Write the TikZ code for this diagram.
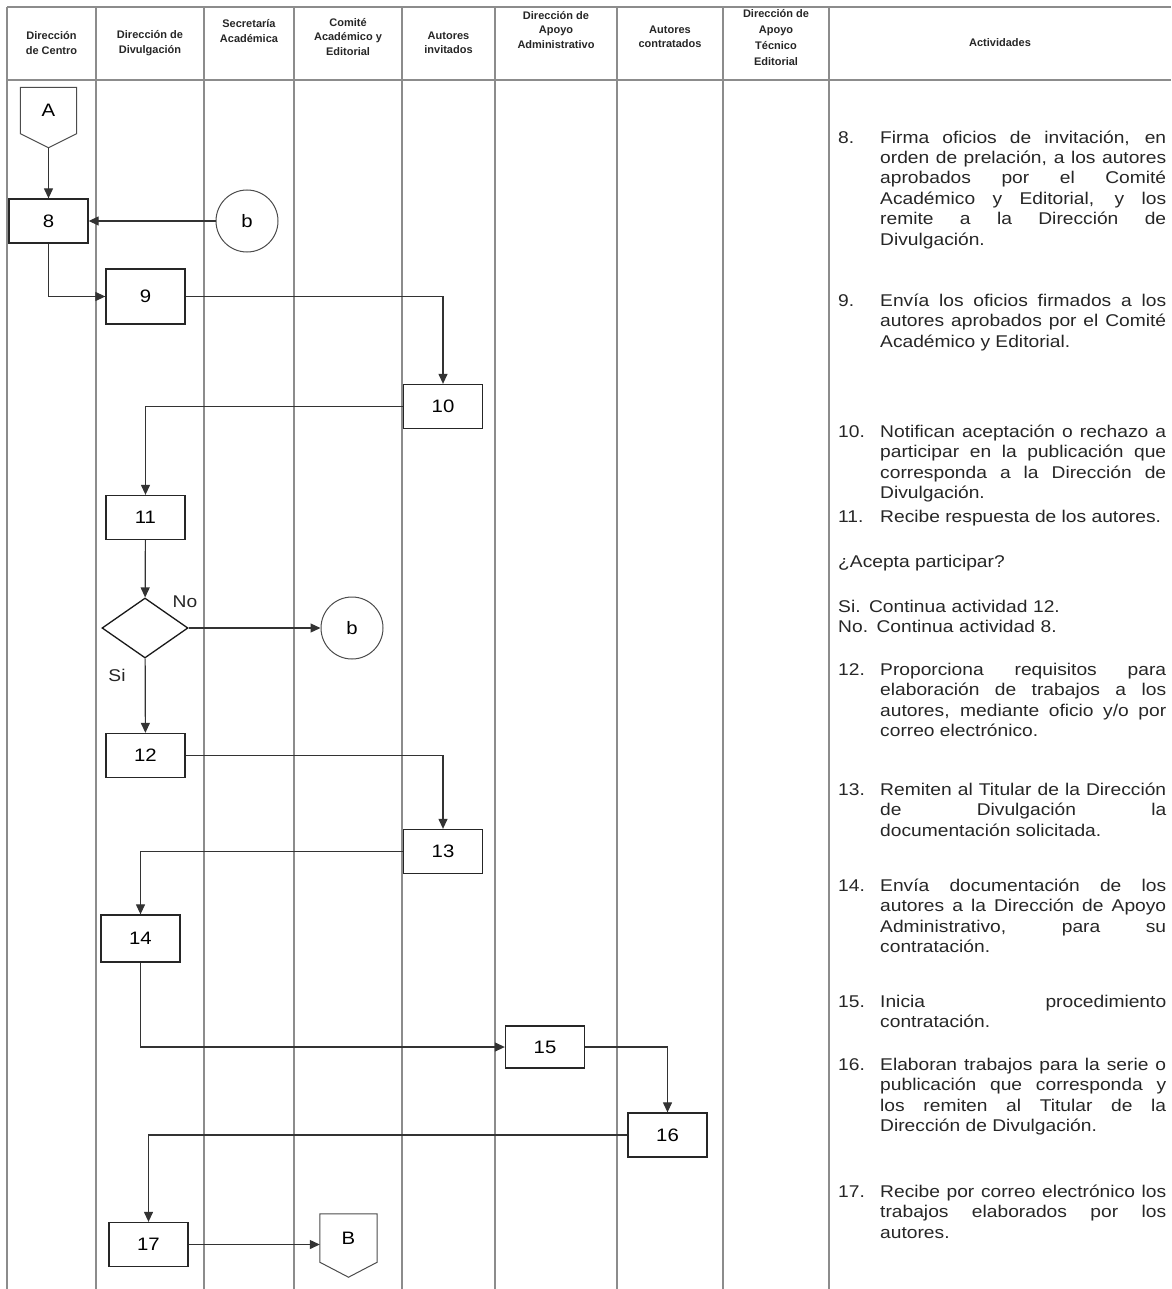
\documentclass[tikz,border=0pt]{standalone}
\usepackage{fontspec}
\setmainfont{Liberation Sans}
\newfontfamily\actfamily[FakeStretch=1.13]{Liberation Sans}
\usetikzlibrary{shapes.geometric,arrows.meta,positioning}
\newcommand{\actfont}{\actfamily\fontsize{17}{20.4}\selectfont}
\newcommand{\headfont}{\bfseries\fontsize{11}{14.5}\selectfont}
\newcommand{\boxfont}{\actfamily\fontsize{18}{20}\selectfont}
\newcommand{\actstrut}{\rule{0pt}{16pt}}
\tikzstyle{lane} = [draw=black!45, line width=1.6pt]
\tikzstyle{headtext} = [align=center, font=\headfont, inner sep=0pt, text=black!85]
\tikzstyle{procbox} = [draw=black!85, line width=1.3pt, rectangle,
    minimum width=79pt, minimum height=44pt, inner sep=0pt, font=\boxfont]
\tikzstyle{offpage} = [rectangle, minimum width=56pt, minimum height=46pt,
    inner sep=0pt, font=\boxfont]
\tikzstyle{offline} = [draw=black!70, line width=1pt]
\tikzstyle{connector} = [draw=black!70, line width=1pt, circle,
    minimum size=62pt, inner sep=0pt, font=\boxfont]
\tikzstyle{decision} = [draw=black!90, line width=1.3pt, diamond,
    minimum width=86pt, minimum height=60pt, inner sep=0pt]
\tikzstyle{flow} = [draw=black!80, line width=1.2pt, -{Triangle[length=10pt,width=9pt]}]
\tikzstyle{actividad} = [anchor=north west, inner sep=0pt, text width=286pt,
    align=justify, font=\actfont, text=black!85]
\tikzstyle{actnumber} = [anchor=north west, inner sep=0pt, font=\actfont, text=black!85]
\tikzstyle{answer} = [inner sep=0pt, font=\actfont, text=black!85]

\begin{document}
\begin{tikzpicture}[x=1pt, y=-1pt]
\useasboundingbox (0,0) rectangle (1171,1289);
\tolerance=10000 \hbadness=10000

% lanes
\foreach \x in {7,96,204,294,402,495,617,723,829}
  \draw[lane] (\x,7) -- (\x,1289);
\draw[lane] (7,7) -- (1171,7);
\draw[lane] (7,80) -- (1171,80);

% header
\node[headtext] (hcentro) at (51.5,43) {Dirección\\de Centro};
\node[headtext] (hdivul) at (150,43) {Dirección de\\Divulgación};
\node[headtext] (hsecre) at (249,31) {Secretaría\\Académica};
\node[headtext] (hcomite) at (348,37) {Comité\\Académico y\\Editorial};
\node[headtext] (hinvit) at (448.5,43) {Autores\\invitados};
\node[headtext] (hadmin) at (556,30) {Dirección de\\Apoyo\\Administrativo};
\node[headtext] (hcontr) at (670,37) {Autores\\contratados};
\node[headtext, font=\bfseries\fontsize{11}{16}\selectfont] (htecn) at (776,38)
    {Dirección de\\Apoyo\\Técnico\\Editorial};
\node[headtext] (hactiv) at (1000,43) {Actividades};

% flow
\node[offpage] (A) at (48.5,110.5) {A};
\draw[offline] (A.south west) -- (A.north west) -- (A.north east) -- (A.south east)
    -- ([yshift=-14pt]A.south) -- cycle;
\coordinate (Atip) at ([yshift=-14pt]A.south);

\node[procbox] (b8) at (48.5,221) {8};
\node[connector] (cb1) at (247,221) {b};
\node[procbox, minimum height=55pt] (b9) at (145.5,296.5) {9};
\node[procbox] (b10) at (443,406.5) {10};
\node[procbox] (b11) at (145.5,517.5) {11};
\node[decision] (dec) at (145,628) {};
\node[answer] (lno) at (185,602) {No};
\node[answer] (lsi) at (117,675) {Si};
\node[connector] (cb2) at (352,628) {b};
\node[procbox] (b12) at (145.5,755.5) {12};
\node[procbox] (b13) at (443,851.5) {13};
\node[procbox, minimum height=47pt] (b14) at (140.5,938.5) {14};
\node[procbox, minimum height=42pt] (b15) at (545,1047) {15};
\node[procbox] (b16) at (667.5,1135) {16};
\node[procbox] (b17) at (148.5,1244.5) {17};
\node[offpage, minimum width=57pt, minimum height=48pt] (B) at (348.5,1238) {B};
\draw[offline] (B.south west) -- (B.north west) -- (B.north east) -- (B.south east)
    -- ([yshift=-15pt]B.south) -- cycle;

\draw[flow] (Atip) -- (b8);
\draw[flow] (cb1) -- (b8);
\draw[flow] (b8) |- (b9);
\draw[flow] (b9) -| (b10);
\draw[flow] (b10) -| (b11);
\draw[flow] (b11) -- (dec);
\draw[flow] (dec) -- (cb2);
\draw[flow] (dec) -- (b12);
\draw[flow] (b12) -| (b13);
\draw[flow] (b13) -| (b14);
\draw[flow] (b14) |- (b15);
\draw[flow] (b15) -| (b16);
\draw[flow] (b16) -| (b17);
\draw[flow] (b17) -- (b17 -| B.west);

% actividades
\node[actividad] (t8) at (880,127) {\actstrut Firma oficios de invitación, en\linebreak
  orden de prelación, a los autores\linebreak aprobados por el Comité\linebreak
  Académico y Editorial, y los\linebreak remite a la Dirección de\linebreak Divulgación.};
\node[actividad] (t9) at (880,290) {\actstrut Envía los oficios firmados a los\linebreak
  autores aprobados por el Comité\linebreak Académico y Editorial.};
\node[actividad] (t10) at (880,421) {\actstrut Notifican aceptación o rechazo a\linebreak
  participar en la publicación que\linebreak corresponda a la Dirección de\linebreak Divulgación.};
\node[actividad] (t11) at (880,506) {\actstrut Recibe respuesta de los autores.};
\node[actividad, text width=328pt] (tpreg) at (838,551) {\actstrut ¿Acepta participar?};
\node[actividad, text width=328pt, align=left] (tresp) at (838,596)
  {\actstrut Si. Continua actividad 12.\\ No. Continua actividad 8.};
\node[actividad] (t12) at (880,659) {\actstrut Proporciona requisitos para\linebreak
  elaboración de trabajos a los\linebreak autores, mediante oficio y/o por\linebreak
  correo electrónico.};
\node[actividad] (t13) at (880,779) {\actstrut Remiten al Titular de la Dirección\linebreak
  de Divulgación la\linebreak documentación solicitada.};
\node[actividad] (t14) at (880,875) {\actstrut Envía documentación de los\linebreak
  autores a la Dirección de Apoyo\linebreak Administrativo, para su\linebreak contratación.};
\node[actividad] (t15) at (880,991) {\actstrut Inicia procedimiento\linebreak contratación.};
\node[actividad] (t16) at (880,1054) {\actstrut Elaboran trabajos para la serie o\linebreak
  publicación que corresponda y\linebreak los remiten al Titular de la\linebreak
  Dirección de Divulgación.};
\node[actividad] (t17) at (880,1181) {\actstrut Recibe por correo electrónico los\linebreak
  trabajos elaborados por los\linebreak autores.};

\foreach \n in {8,...,17}
  \node[actnumber] (n\n) at ([xshift=-42pt]t\n.north west) {\actstrut\n.};

\end{tikzpicture}
\end{document}
